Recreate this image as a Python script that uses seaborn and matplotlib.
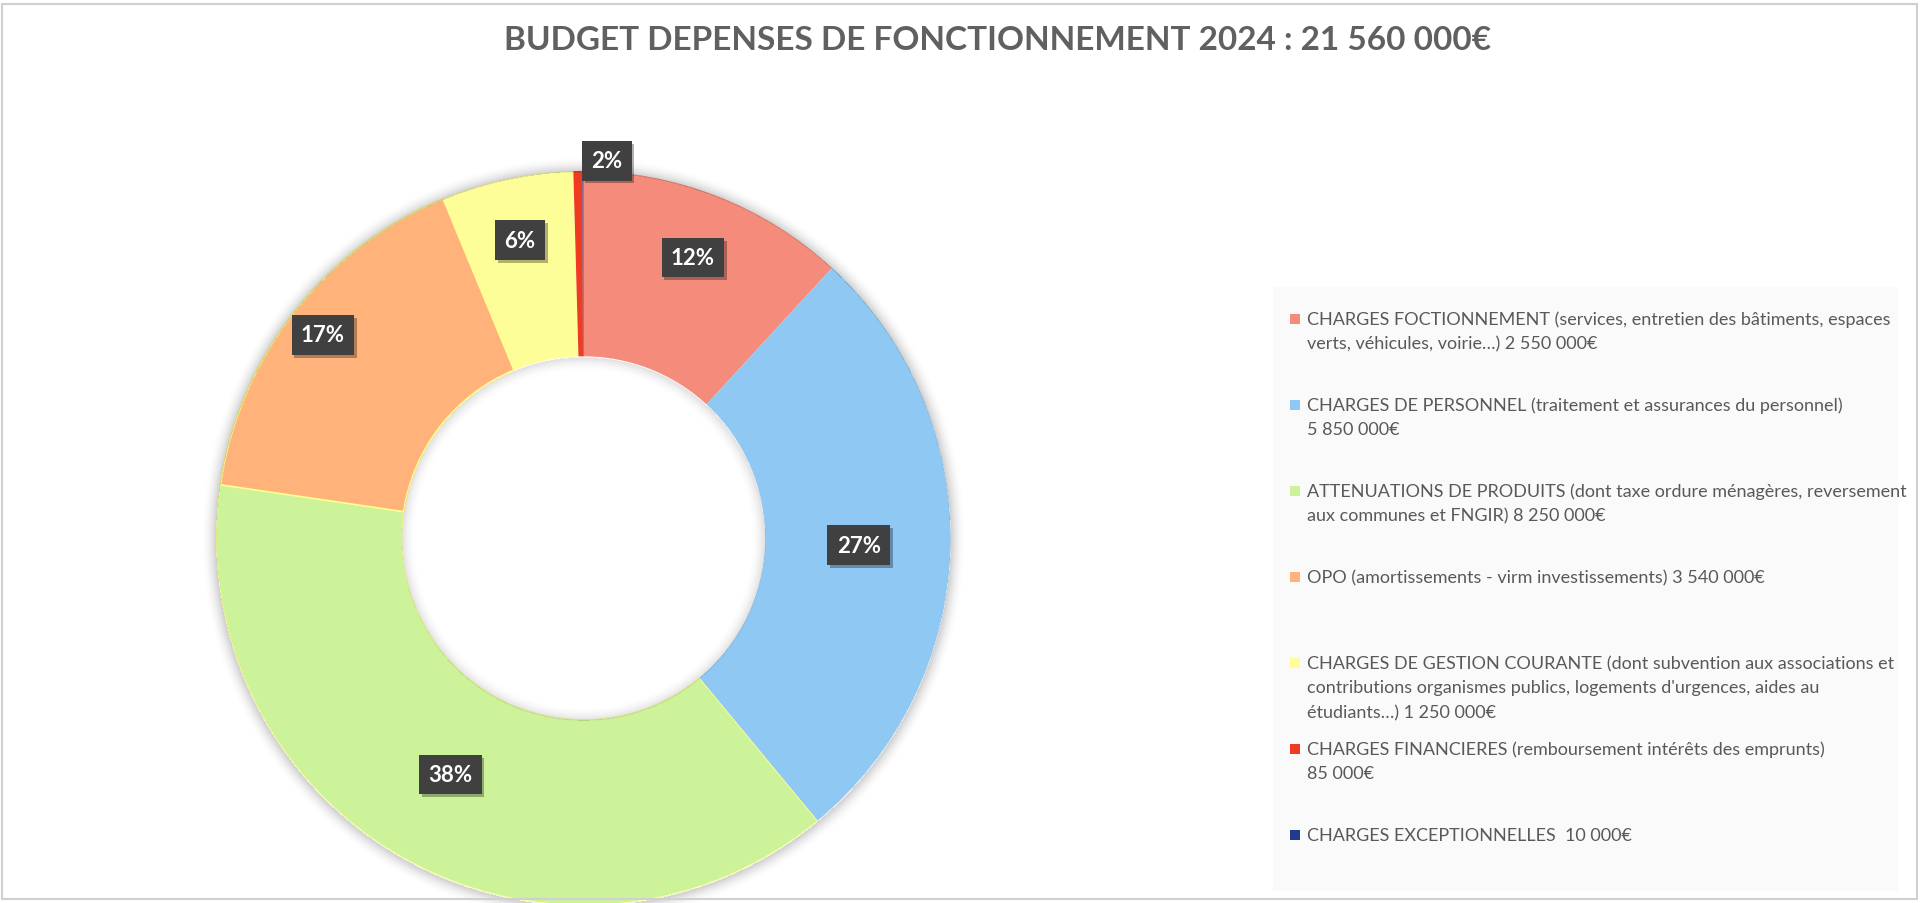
import matplotlib
matplotlib.use("Agg")
import matplotlib.pyplot as plt
import matplotlib.patheffects as pe
from matplotlib.patches import Rectangle
import numpy as np
import seaborn as sns

# data
categories = [
    "CHARGES FOCTIONNEMENT (services, entretien des bâtiments, espaces\nverts, véhicules, voirie…) 2 550 000€",
    "CHARGES DE PERSONNEL (traitement et assurances du personnel)\n5 850 000€",
    "ATTENUATIONS DE PRODUITS (dont taxe ordure ménagères, reversement\naux communes et FNGIR) 8 250 000€",
    "OPO (amortissements - virm investissements) 3 540 000€",
    "CHARGES DE GESTION COURANTE (dont subvention aux associations et\ncontributions organismes publics, logements d'urgences, aides au\nétudiants…) 1 250 000€",
    "CHARGES FINANCIERES (remboursement intérêts des emprunts)\n85 000€",
    "CHARGES EXCEPTIONNELLES  10 000€",
]
amounts = [2550000, 5850000, 8250000, 3540000, 1250000, 85000, 10000]
pct_labels = ["12%", "27%", "38%", "17%", "6%", "2%", None]
colors = ["#F58B7B", "#8EC8F3", "#CCF29A", "#FFB27A", "#FEFE99", "#EE3B22", "#203A8C"]
title = "BUDGET DEPENSES DE FONCTIONNEMENT 2024 : 21 560 000€"

sns.set_theme(style="white")
plt.rcParams["font.family"] = ["Lato", "DejaVu Sans"]

W, H = 1920, 904
fig = plt.figure(figsize=(W / 100, H / 100), dpi=100)
fig.patch.set_facecolor("white")

# outer border of the chart area
fig.patches.append(Rectangle((2 / W, 4 / H), (W - 5) / W, (H - 9) / H, transform=fig.transFigure,
                             fill=False, edgecolor="#D0D0D0", linewidth=1.5))

fig.text(998 / W, 1 - 41 / H, title, ha="center", va="center", fontsize=24,
         fontweight="bold", color="#606060")

# donut
cx, cy, R = 583.5, 539, 367
lim = 1.06
half = lim * R
hole = 0.495
ax = fig.add_axes([(cx - half) / W, (H - cy - half) / H, 2 * half / W, 2 * half / H])

wedges, _ = ax.pie(amounts, colors=colors, startangle=90, counterclock=False,
                   radius=1.0, wedgeprops=dict(width=1 - hole, linewidth=0, zorder=2))
wedges[3].set_edgecolor("#FFFF8F")
wedges[3].set_linewidth(1.2)
wedges[2].set_edgecolor("#FFFF8F")
wedges[2].set_linewidth(0.6)

# soft shadow outside the ring and inside the hole
g = np.linspace(-lim, lim, 900)
gx, gy = np.meshgrid(g, g)
rr = np.hypot(gx, gy + 0.004)
alpha = np.zeros_like(rr)
out = (rr > 1.0) & (rr < 1.045)
alpha[out] = 0.2 * (1 - (rr[out] - 1.0) / 0.045) ** 2
inn = (rr < hole) & (rr > hole - 0.042)
alpha[inn] = 0.13 * (1 - (hole - rr[inn]) / 0.042) ** 2
shadow = np.zeros(rr.shape + (4,))
shadow[..., 3] = alpha
ax.imshow(shadow, extent=(-lim, lim, -lim, lim), origin="lower", zorder=3,
          interpolation="bilinear")

ax.set_xlim(-lim, lim)
ax.set_ylim(-lim, lim)
ax.set_aspect("equal")
ax.axis("off")

# data labels
label_r = [0.82, 0.75, 0.74, 0.90, 0.83, 1.03, 0]
label_dtheta = [0, 0, 0, 0, 0, -4.4, 0]
for w, lab, r, dt in zip(wedges, pct_labels, label_r, label_dtheta):
    if lab is None:
        continue
    ang = np.deg2rad((w.theta1 + w.theta2) / 2 + dt)
    t = ax.text(r * np.cos(ang), r * np.sin(ang), lab, ha="center", va="center",
                fontsize=16, fontweight="bold", color="white", zorder=10, clip_on=False,
                bbox=dict(boxstyle="square,pad=0.42", facecolor="#404040", edgecolor="none"))
    t.get_bbox_patch().set_path_effects([
        pe.SimplePatchShadow(offset=(2, -2), shadow_rgbFace="#000000", alpha=0.3), pe.Normal()])

# legend panel
fig.patches.append(Rectangle((1273 / W, (H - 892) / H), (1898 - 1273) / W, (892 - 288) / H,
                             transform=fig.transFigure, facecolor="#FAFAFA", edgecolor="none"))
y0, slot, line_h = 320, 86, 24.5
for i, (lab, col) in enumerate(zip(categories, colors)):
    y = y0 + i * slot
    fig.patches.append(Rectangle((1290 / W, (H - y - 5) / H), 10 / W, 10 / H,
                                 transform=fig.transFigure, facecolor=col, edgecolor="none"))
    for j, line in enumerate(lab.split("\n")):
        fig.text(1307 / W, 1 - (y + j * line_h) / H, line, ha="left", va="center",
                 fontsize=13, color="#595959")

fig.savefig("out.png", dpi=100, facecolor="white")
